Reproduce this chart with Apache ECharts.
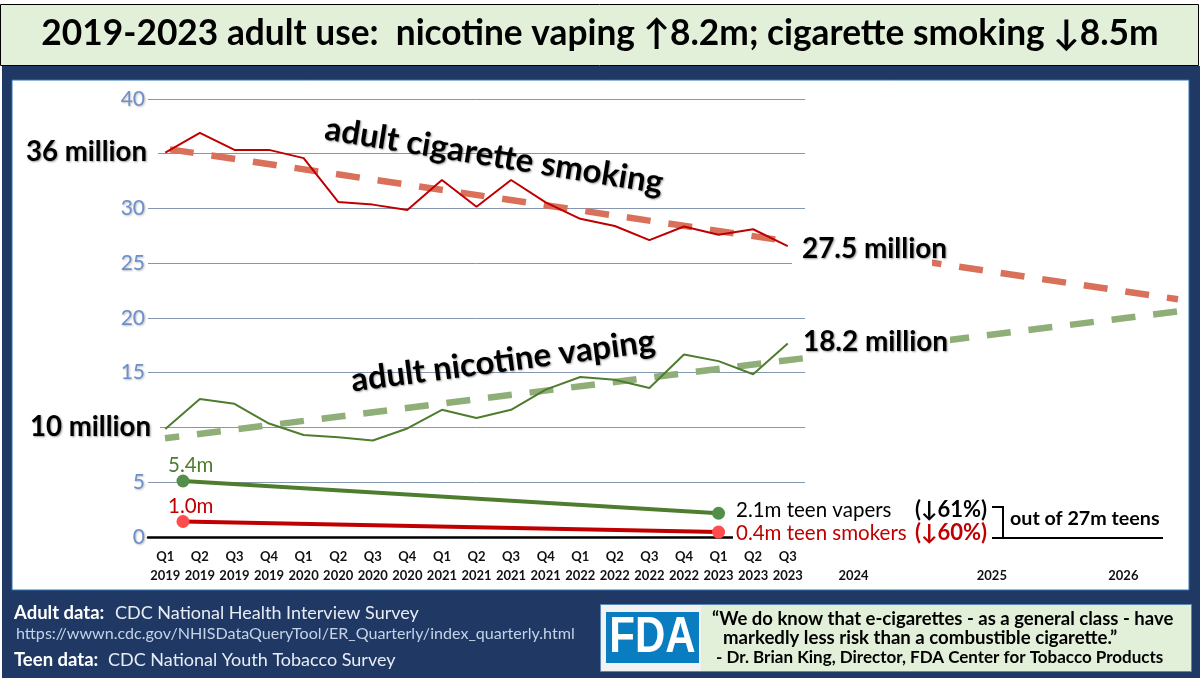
<!DOCTYPE html>
<html>
<head>
<meta charset="utf-8">
<style>
html, body { margin: 0; padding: 0; background: #fff; }
#chart { width: 1200px; height: 684px; }
</style>
<script src="https://cdn.jsdelivr.net/npm/echarts@6/dist/echarts.min.js"></script>
</head>
<body>
<div id="chart"></div>
<script>
'use strict';
const quarters = [
    "Q1\n2019", "Q2\n2019", "Q3\n2019", "Q4\n2019",
    "Q1\n2020", "Q2\n2020", "Q3\n2020", "Q4\n2020",
    "Q1\n2021", "Q2\n2021", "Q3\n2021", "Q4\n2021",
    "Q1\n2022", "Q2\n2022", "Q3\n2022", "Q4\n2022",
    "Q1\n2023", "Q2\n2023", "Q3\n2023"
];
const adultSmoking = [35.1, 36.9, 35.35, 35.35, 34.6, 30.6, 30.35, 29.85, 32.6, 30.15,
    32.6, 30.55, 29.05, 28.4, 27.1, 28.35, 27.6, 28.1, 26.55];
const adultVaping = [9.85, 12.6, 12.15, 10.35, 9.3, 9.1, 8.8, 9.9, 11.6, 10.85,
    11.6, 13.45, 14.6, 14.35, 13.6, 16.65, 16.05, 14.85, 17.65];
// trend lines and teen lines: [quarter index, millions]
const smokingTrend = [[0.14, 35.4], [29.28, 21.7]];
const vapingTrend = [[0, 9.0], [29.28, 20.6]];
const teenVapers = [[0.52, 5.1], [16, 2.15]];
const teenSmokers = [[0.52, 1.4], [16, 0.43]];
const futureTicks = [19.9, 23.9, 27.7];
const futureYears = ["2024", "2025", "2026"];
const hiddenYTicks = [10, 35];

const FONT = 'Lato, "Noto Sans", sans-serif';
const NAVY = '#1f3864';
const PALE = '#e2efd9';
const RED = '#c00000';
const GREEN = '#4e7d2f';

function text(x, y, str, size, opts) {
    const o = opts || {};
    return {
        type: 'text',
        z: o.z || 100,
        rotation: o.rotation || 0,
        scaleX: o.scaleX || 1,
        x: x,
        y: y,
        style: {
            text: str,
            x: 0,
            y: 0,
            font: `${o.weight || 'normal'} ${size}px ${o.family || FONT}`,
            fill: o.fill || '#000',
            align: o.align || 'left',
            verticalAlign: 'middle',
            textShadowColor: o.shadow ? 'rgba(0,0,0,0.4)' : undefined,
            textShadowBlur: o.shadow ? 2 : 0,
            textShadowOffsetX: o.shadow ? 1 : 0,
            textShadowOffsetY: o.shadow ? 1 : 0
        }
    };
}

function box(x, y, width, height, fill, stroke, z) {
    return {
        type: 'rect',
        z: z,
        shape: { x: x, y: y, width: width, height: height },
        style: { fill: fill, stroke: stroke || null, lineWidth: stroke ? 1 : 0 }
    };
}

function rule(x1, y1, x2, y2) {
    return {
        type: 'line',
        z: 100,
        shape: { x1: x1, y1: y1, x2: x2, y2: y2 },
        style: { stroke: '#000', lineWidth: 2 }
    };
}

const chart = echarts.init(document.getElementById('chart'));

const tickStyle = {
    fontFamily: FONT,
    fontWeight: 'bold',
    fontSize: 13,
    lineHeight: 19,
    color: '#111'
};

function lineSeries(name, data, color, width, grid, extra) {
    return Object.assign({
        name: name,
        type: 'line',
        data: data,
        xAxisIndex: grid,
        yAxisIndex: grid,
        showSymbol: false,
        symbol: 'none',
        silent: true,
        animation: false,
        lineStyle: { color: color, width: width }
    }, extra || {});
}

function teenSeries(name, data, lineColor, dotColor) {
    return lineSeries(name, data, lineColor, 4, 1, {
        showSymbol: true,
        symbol: 'circle',
        symbolSize: 13,
        itemStyle: { color: dotColor }
    });
}

chart.setOption({
    animation: false,
    title: {
        text: '2019-2023 adult use:  nicotine vaping ↑8.2m; cigarette smoking ↓8.5m',
        left: 'center',
        top: 11,
        textStyle: {
            fontFamily: FONT,
            fontWeight: 'bold',
            fontSize: 35.3,
            color: '#000'
        }
    },
    grid: [
        { left: 148, top: 99, width: 657, height: 437.8 },
        { left: 147.7, top: 99, width: 1030.3, height: 437.8 }
    ],
    xAxis: [{
        type: 'category',
        gridIndex: 0,
        data: quarters,
        offset: 1,
        axisLine: { lineStyle: { color: '#000', width: 2.5 } },
        axisTick: { show: false },
        axisLabel: Object.assign({ interval: 0, margin: 10 }, tickStyle)
    }, {
        type: 'value',
        gridIndex: 1,
        min: -0.5,
        max: 29.28,
        offset: 1,
        splitLine: { show: false },
        axisLine: { show: false },
        axisTick: { show: false },
        axisLabel: Object.assign({
            margin: 10,
            customValues: futureTicks,
            formatter: v => '\n' + futureYears[futureTicks.indexOf(v)]
        }, tickStyle)
    }],
    yAxis: [{
        type: 'value',
        gridIndex: 0,
        min: 0,
        max: 40,
        interval: 5,
        axisLine: { show: false },
        axisTick: { show: false },
        splitLine: { lineStyle: { color: '#8496b0', width: 1 } },
        axisLabel: {
            margin: 3,
            fontFamily: FONT,
            fontSize: 21,
            color: '#6f8fc9',
            textShadowColor: 'rgba(0,0,0,0.25)',
            textShadowBlur: 2,
            textShadowOffsetX: 1,
            textShadowOffsetY: 1,
            formatter: v => hiddenYTicks.includes(v) ? '' : String(v)
        }
    }, {
        type: 'value',
        gridIndex: 1,
        min: 0,
        max: 40,
        interval: 5,
        axisLine: { show: false },
        axisTick: { show: false },
        splitLine: { show: false },
        axisLabel: { show: false }
    }],
    series: [
        lineSeries('smoking trend', smokingTrend, '#d9705a', 6, 1, {
            lineStyle: { color: '#d9705a', width: 6.5, type: [24, 18] }
        }),
        lineSeries('vaping trend', vapingTrend, '#8fae78', 6, 1, {
            lineStyle: { color: '#8fae78', width: 6.5, type: [24, 17.9], dashOffset: 9.7 }
        }),
        lineSeries('adult cigarette smoking', adultSmoking, RED, 2, 0),
        lineSeries('adult nicotine vaping', adultVaping, GREEN, 2, 0),
        teenSeries('teen vapers', teenVapers, GREEN, '#548f4a'),
        teenSeries('teen smokers', teenSmokers, RED, '#ff4d4d')
    ],
    graphic: [
        // frame
        box(2, 66, 1198, 612, NAVY, null, -20),
        box(12, 80, 1177, 510, '#fff', '#2e75b6', -19),
        box(0.5, 4.5, 1198, 61, PALE, '#000', -18),
        box(600.5, 604.5, 591, 67, PALE, '#5b87b8', 1),
        box(601, 605, 100, 66, '#f2f2f2', null, 2),
        box(606, 612, 93, 51, '#0a7cc0', null, 3),
        text(652.5, 638, 'FDA', 50, { weight: 'bold', fill: '#fff', align: 'center', family: '"Liberation Sans", sans-serif', scaleX: 0.84 }),

        // big annotations, the white boxes hide gridline ends and trend dashes
        box(26, 138, 132, 28, '#fff', null, 50),
        box(30, 414, 130, 28, '#fff', null, 50),
        box(792, 232, 140, 35, '#fff', null, 50),
        box(806, 325, 144, 34, '#fff', null, 50),
        text(26, 152, '36 million', 27.6, { weight: 'bold', shadow: true }),
        text(30, 427, '10 million', 27.6, { weight: 'bold', shadow: true }),
        text(802, 249, '27.5 million', 27.9, { weight: 'bold', shadow: true }),
        text(803, 342, '18.2 million', 27.9, { weight: 'bold', shadow: true }),
        text(494, 156, 'adult cigarette smoking', 33, { weight: 'bold', rotation: -0.16, align: 'center', shadow: true }),
        text(503, 361, 'adult nicotine vaping', 33, { weight: 'bold', rotation: 0.13, align: 'center', shadow: true }),

        // teen labels
        text(168, 465, '5.4m', 20.5, { fill: GREEN }),
        text(168, 506, '1.0m', 20.5, { fill: RED }),
        text(736, 510, '2.1m teen vapers', 20.5, {}),
        text(915, 510, '(↓61%)', 22, { weight: 'bold' }),
        box(733, 522, 78, 19, '#fff', null, 50),
        text(736, 533, '0.4m teen smokers', 20.5, { fill: RED }),
        text(915, 533, '(↓60%)', 22, { weight: 'bold', fill: RED }),
        rule(992, 507, 1003, 507),
        rule(1003, 506, 1003, 539),
        rule(992, 538, 1163, 538),
        text(1010, 519, 'out of 27m teens', 19.7, { weight: 'bold' }),

        // footer
        text(14, 613, 'Adult data:', 18.5, { weight: 'bold', fill: '#fff' }),
        text(115, 613, 'CDC National Health Interview Survey', 18, { fill: '#e8edf5' }),
        text(16, 634, 'https://wwwn.cdc.gov/NHISDataQueryTool/ER_Quarterly/index_quarterly.html', 16.1, { fill: '#c5d3e8' }),
        text(14, 660, 'Teen data:', 18.5, { weight: 'bold', fill: '#fff' }),
        text(108, 660, 'CDC National Youth Tobacco Survey', 18, { fill: '#e8edf5' }),
        text(712, 619, '“We do know that e-cigarettes - as a general class - have', 18.5, { weight: 'bold' }),
        text(723, 638, 'markedly less risk than a combustible cigarette.”', 18.6, { weight: 'bold' }),
        text(716, 658, '- Dr. Brian King, Director, FDA Center for Tobacco Products', 17, { weight: 'bold' })
    ]
});
</script>
</body>
</html>
